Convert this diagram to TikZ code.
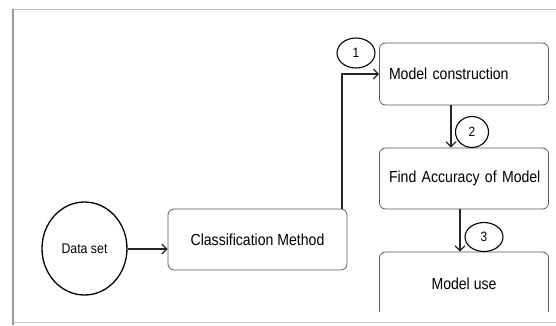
\documentclass[tikz,border=0pt]{standalone}
\usepackage{fontspec}
\setmainfont[FakeStretch=0.88]{Liberation Sans}
\usetikzlibrary{shapes.geometric,arrows.meta}
\begin{document}
\begin{tikzpicture}[x=1pt,y=-1pt,
  box/.style={draw=black!65, line width=0.8pt, rounded corners=6pt, font=\fontsize{16}{18}\selectfont, minimum width=169pt},
  leftbox/.style={box, align=left, text width=150pt, inner xsep=9.5pt},
  num/.style={ellipse, draw=black, line width=1.1pt, fill=white, inner sep=0pt, font=\fontsize{13.5}{15}\selectfont},
  conn/.style={draw=black!85, line width=1.2pt, -{Straight Barb[length=5pt,width=10pt]}}]
\useasboundingbox (0,0) rectangle (556,325);
\draw[black!25, line width=0.5pt] (13,9) -- (556,9);
\draw[black!20, line width=0.8pt] (13,322) -- (556,322);
\draw[black!40, line width=2pt] (13,9) -- (13,325);

\node[ellipse, draw=black, line width=1.3pt, minimum width=85pt, minimum height=93pt, inner sep=0pt, font=\fontsize{14}{16}\selectfont] (data) at (84.5,248.5) {Data set};
\node[box, minimum width=179pt, minimum height=61pt] (cls) at (257.5,239.5) {Classification Method};
\node[leftbox, minimum height=62pt] (mc) at (464,74) {\mbox{Model construction}};
\node[leftbox, minimum height=61pt] (fa) at (464,178.5) {\mbox{Find Accuracy of Model}};
\begin{scope}
\clip (370,240) rectangle (556,311);
\node[box, minimum height=64pt] (use) at (464,284) {Model use};
\end{scope}

\coordinate (corner) at (342,74);
\draw[conn] (cls.north -| corner) -- (corner) -- (mc.west);
\draw[conn] (mc.south -| 451,0) -- (fa.north -| 451,0);
\draw[conn] (fa.south -| 460,0) -- (use.north -| 460,0);
\draw[conn] (data.east |- 0,249) -- (cls.west |- 0,249);

\node[num, minimum width=38pt, minimum height=30pt] (n1) at (356,53) {1};
\node[num, minimum width=33pt, minimum height=31pt] (n2) at (472,132) {2};
\node[num, minimum width=38pt, minimum height=29pt] (n3) at (484,237) {3};
\end{tikzpicture}
\end{document}
